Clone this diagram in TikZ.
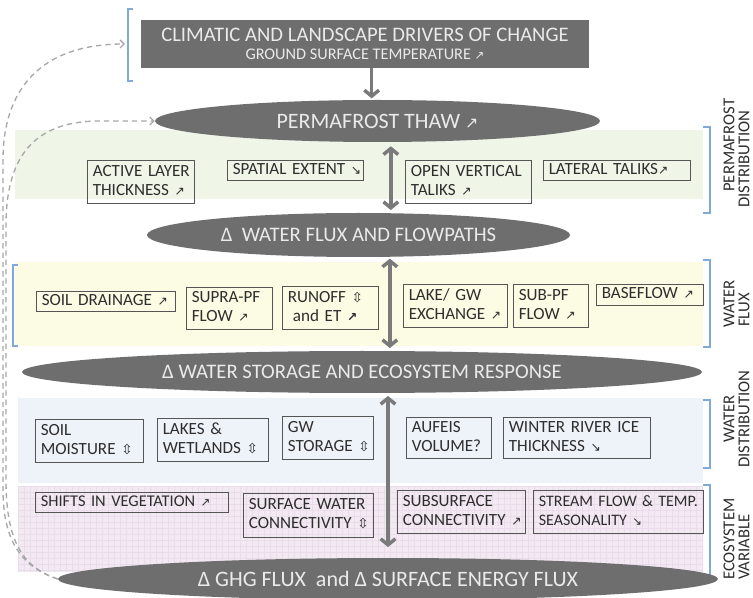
\documentclass[tikz,border=0pt]{standalone}
\usepackage{fontspec}
\setmainfont{Carlito}
\newfontfamily\symf{DejaVu Sans}
\usepackage{graphicx}
\usetikzlibrary{shapes.geometric,arrows.meta}
\definecolor{ellg}{HTML}{6E6E6E}
\definecolor{ellt}{HTML}{EAEAEA}
\definecolor{boxt}{HTML}{2E2E2E}
\definecolor{boxd}{HTML}{555555}
\definecolor{arrg}{HTML}{7A7A7A}
\definecolor{fbg}{HTML}{A8A8A8}
\definecolor{brkc}{HTML}{7FA9D6}
\definecolor{bandG}{HTML}{EFF5E7}
\definecolor{bandY}{HTML}{FCFCE4}
\definecolor{bandB}{HTML}{EEF2F9}
\definecolor{bandP}{HTML}{F3E9F3}
\definecolor{gridP}{HTML}{EADCEB}
\newcommand\arUp{{\symf\scalebox{0.72}{↗}}}
\newcommand\arDn{{\symf\scalebox{0.72}{↘}}}
\newcommand\arUD{{\symf\scalebox{0.8}{⇳}}}
\newcommand\mybox[7][]{%
  \pgfmathsetmacro\bw{#5*0.75}\pgfmathsetmacro\bh{#6*0.75}\pgfmathsetmacro\tw{#5*0.75-8}%
  \node[infobox, #1, minimum width=\bw pt, minimum height=\bh pt, text width=\tw pt] (#2) at (#3,#4)
    {\def\arraystretch{0.95}\begin{tabular}{@{}l@{}}#7\end{tabular}};}
\begin{document}
\begin{tikzpicture}[x=0.75pt,y=-0.75pt,
  infobox/.style={draw=boxd, line width=0.7pt, text=boxt, anchor=north west, align=left,
    inner xsep=4pt, inner ysep=0pt, font=\fontsize{12.8}{15}\selectfont},
  ell/.style={ellipse, fill=ellg, text=ellt, inner sep=0pt, font=\fontsize{15.5}{18}\selectfont},
  hdrbox/.style={rectangle, fill=ellg, text=ellt, align=center, inner sep=0pt},
  brk/.style={draw=brkc, line width=0.8pt},
  bigarr/.style={draw=arrg, line width=2.6pt, -{Straight Barb[length=4.5pt,width=11pt]}},
  bigarr2/.style={draw=arrg, line width=2.6pt, {Straight Barb[length=4.5pt,width=11pt]}-{Straight Barb[length=4.5pt,width=11pt]}},
  fb/.style={draw=fbg, line width=1pt, dash pattern=on 4pt off 3pt, -{Straight Barb[length=3pt,width=6pt]}},
  side/.style={rotate=90, anchor=west, text=boxt, inner sep=0pt, font=\fontsize{12.5}{14}\selectfont}]
\useasboundingbox (0,0) rectangle (753,598);
\fill[white] (0,0) rectangle (753,598);
% bands
\fill[bandG] (15,130) rectangle (703,199);
\fill[bandY] (15,262) rectangle (703,346);
\fill[bandB] (18,398) rectangle (703,483);
\fill[bandP] (18,486) rectangle (703,572);
\draw[gridP, step=4.5pt, line width=0.3pt] (18,486) grid (703,572);
% brackets
\draw[brk] (133,9) -- (128,9) -- (128,81) -- (133,81);
\draw[brk] (18,265) -- (13,265) -- (13,346) -- (18,346);
\draw[brk] (703,127) -- (710,127) -- (710,213) -- (703,213);
\draw[brk] (703,260) -- (710,260) -- (710,347) -- (703,347);
\draw[brk] (703,400) -- (710,400) -- (710,468) -- (703,468);
\draw[brk] (703,485) -- (710,485) -- (710,578) -- (703,578);
% header
\node[hdrbox, minimum width=448*0.75pt, minimum height=48*0.75pt] (hdr) at (365,44)
  {{\fontsize{15.5}{18}\selectfont CLIMATIC AND LANDSCAPE DRIVERS OF CHANGE}\\[1pt]
   {\fontsize{12.2}{13}\selectfont GROUND SURFACE TEMPERATURE \arUp}};
% ellipses
\node[ell, minimum width=445*0.75pt, minimum height=42*0.75pt, font=\fontsize{16.5}{19}\selectfont] (pt) at (377.5,121) {PERMAFROST THAW \arUp};
\node[ell, minimum width=423*0.75pt, minimum height=44*0.75pt] (wf) at (358.5,235) {Δ\ \ WATER FLUX AND FLOWPATHS};
\node[ell, minimum width=680*0.75pt, minimum height=42*0.75pt] (ws) at (362,372) {Δ WATER STORAGE AND ECOSYSTEM RESPONSE};
\node[ell, minimum width=660*0.75pt, minimum height=42*0.75pt, font=\fontsize{16.5}{19}\selectfont] (ghg) at (388,579) {Δ GHG FLUX\ \ and Δ SURFACE ENERGY FLUX};
% permafrost boxes
\mybox{alt}{87}{160}{107}{43}{ACTIVE LAYER\\THICKNESS \arUp}
\mybox{spx}{227}{160}{136}{20}{SPATIAL EXTENT \arDn}
\mybox{ovt}{405}{160}{126}{43}{OPEN VERTICAL\\TALIKS \arUp}
\mybox{lat}{543}{160}{147}{20}{LATERAL TALIKS\arUp}
% water flux boxes
\mybox{sdr}{36}{291}{139}{20}{SOIL DRAINAGE \arUp}
\mybox{spf}{186}{287}{86}{42}{SUPRA-PF\\FLOW \arUp}
\mybox{run}{282}{286}{96}{43}{RUNOFF \arUD\\\hspace*{0.3em}and ET {\symf\scalebox{0.72}{\bfseries ↗}}}
\mybox{lgw}{403}{284}{104}{43}{LAKE/ GW\\EXCHANGE \arUp}
\mybox{sub}{513}{284}{75}{43}{SUB-PF\\FLOW \arUp}
\mybox{bsf}{596}{284}{107}{21}{BASEFLOW \arUp}
% water distribution boxes
\mybox{smo}{35}{419}{108}{43}{SOIL\\MOISTURE \arUD}
\mybox{lak}{157}{418}{111}{43}{LAKES \&\\WETLANDS \arUD}
\mybox{gws}{282}{416}{91}{43}{GW\\STORAGE \arUD}
\mybox{auf}{406}{417}{85}{41}{AUFEIS\\VOLUME?}
\mybox{wri}{503}{417}{147}{41}{WINTER RIVER ICE\\THICKNESS \arDn}
% ecosystem boxes
\mybox[font=\fontsize{12.3}{15}\selectfont]{veg}{35}{492}{193}{20}{SHIFTS IN VEGETATION \arUp}
\mybox{swc}{243}{493}{130}{44}{SURFACE WATER\\CONNECTIVITY \arUD}
\mybox{ssc}{397}{490}{128}{43}{SUBSURFACE\\CONNECTIVITY \arUp}
\mybox[font=\fontsize{12}{15}\selectfont]{stf}{533}{490}{170}{43}{STREAM FLOW \& TEMP.\\SEASONALITY \arDn}
% vertical arrows
\draw[bigarr, shorten <=0pt, shorten >=1pt] ([xshift=5pt]hdr.south) -- ([xshift=5pt]hdr.south |- pt.north);
\draw[bigarr2, shorten <=3pt, shorten >=2pt] ([xshift=10pt]pt.south) -- ([xshift=10pt]pt.south |- wf.north);
\draw[bigarr2, shorten <=1pt, shorten >=2pt] ([xshift=23.5pt]wf.south) -- ([xshift=23.5pt]wf.south |- ws.north);
\draw[bigarr2, shorten <=2pt, shorten >=8pt] ([xshift=19.5pt]ws.south) -- ([xshift=19.5pt]ws.south |- ghg.north);
% feedback dashed curves
\coordinate (hin) at (125,44);
\draw[fb] (ghg.west) .. controls (25,568) and (3,545) .. (3,490) -- (3,160) .. controls (3,90) and (40,44) .. (hin);
\draw[fb] (ghg.west) .. controls (25,568) and (6,545) .. (6,480) -- (6,225) .. controls (6,150) and (40,121) .. (100,121) -- (pt.west);
% side labels
\node[side] (l1a) at (729,192) {PERMAFROST};
\node[side] (l1b) at (744,208) {DISTRIBUTION};
\node[side] (l2a) at (729,328) {WATER};
\node[side] (l2b) at (744,327) {FLUX};
\node[side] (l3a) at (729,443) {WATER};
\node[side] (l3b) at (744,468) {DISTRIBUTION};
\node[side] (l4a) at (729,580) {ECOSYSTEM};
\node[side] (l4b) at (744,580) {VARIABLE};
\end{tikzpicture}
\end{document}
